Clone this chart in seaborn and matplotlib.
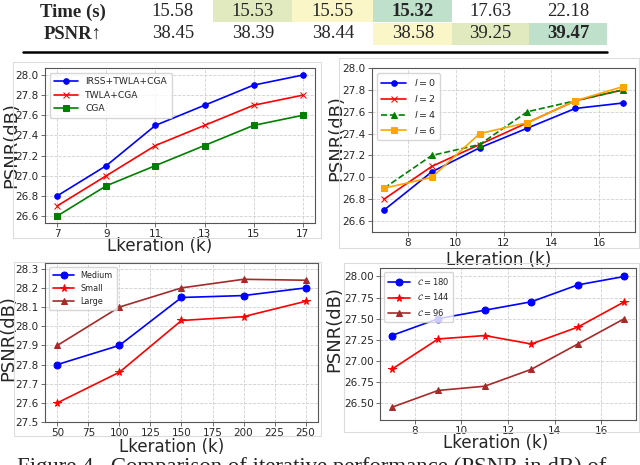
import numpy as np
import pandas as pd
import seaborn as sns
import matplotlib.pyplot as plt
from matplotlib.patches import Rectangle

sns.set_style('ticks')
plt.rcParams['font.family'] = ['DejaVu Sans']
plt.rcParams['mathtext.fontset'] = 'dejavusans'

# ---- datos de la tabla ----
row_labels = ['Time (s)', 'PSNR↑']
time_vals = ['15.58', '15.53', '15.55', '15.32', '17.63', '22.18']
psnr_vals = ['38.45', '38.39', '38.44', '38.58', '39.25', '39.47']
time_bg = [None, '#e1eabf', '#fbf6c8', '#bfe0cb', None, None]
psnr_bg = [None, None, None, '#fbf6c8', '#e1eabf', '#bfe0cb']
time_bold = [False, False, False, True, False, False]
psnr_bold = [False, False, False, False, False, True]

# ---- panel 1 ----
k1 = [7, 9, 11, 13, 15, 17]
irss_twla_cga = [26.8, 27.1, 27.5, 27.7, 27.9, 28.0]
twla_cga = [26.7, 27.0, 27.3, 27.5, 27.7, 27.8]
cga = [26.6, 26.9, 27.1, 27.3, 27.5, 27.6]

# ---- panel 2 ----
k2 = [7, 9, 11, 13, 15, 17]
l0 = [26.7, 27.05, 27.27, 27.45, 27.63, 27.68]
l2 = [26.8, 27.1, 27.3, 27.5, 27.7, 27.8]
l4 = [26.9, 27.2, 27.3, 27.6, 27.7, 27.8]
l6 = [26.9, 27.0, 27.4, 27.5, 27.7, 27.83]

# ---- panel 3 ----
k3 = [50, 100, 150, 200, 250]
medium = [27.8, 27.9, 28.15, 28.16, 28.2]
small = [27.6, 27.76, 28.03, 28.05, 28.13]
large = [27.9, 28.1, 28.2, 28.245, 28.24]

# ---- panel 4 ----
k4 = [7, 9, 11, 13, 15, 17]
c180 = [27.3, 27.5, 27.6, 27.7, 27.9, 28.0]
c144 = [26.9, 27.26, 27.3, 27.2, 27.4, 27.7]
c96 = [26.45, 26.65, 26.7, 26.9, 27.2, 27.5]

W, H = 640, 465
fig = plt.figure(figsize=(6.4, 4.65), dpi=100)


def fx(px):
    return px / W


def fy(py):
    return 1 - py / H


def add_ax(l, r, t, b):
    return fig.add_axes([fx(l), fy(b), fx(r) - fx(l), fy(t) - fy(b)])


# marcos grises de cada imagen
for (l, t, r, b) in [(13, 62, 321, 238), (339, 58, 639, 248),
                     (14, 262, 321, 436), (344, 263, 639, 432)]:
    fig.patches.append(Rectangle((fx(l), fy(b)), fx(r) - fx(l), fy(t) - fy(b),
                                 transform=fig.transFigure, fill=False,
                                 edgecolor='#dcdcdc', lw=0.8))

# ---- tabla ----
col_x = [173, 253, 333, 413, 490, 568]
edges = [134, 213, 292, 373, 452, 529, 607]
row_y = [12, 34]
row_top = [0, 23]
row_h = 22
for r, (vals, bgs, bolds) in enumerate([(time_vals, time_bg, time_bold),
                                        (psnr_vals, psnr_bg, psnr_bold)]):
    fig.text(fx(73), fy(row_y[r]), row_labels[r], ha='center', va='center',
             fontsize=13.5, fontweight='bold', family=['Liberation Serif', 'DejaVu Serif'])
    for i, v in enumerate(vals):
        if bgs[i]:
            fig.patches.append(Rectangle((fx(edges[i]), fy(row_top[r] + row_h)),
                                         fx(edges[i + 1] - edges[i]), row_h / H,
                                         transform=fig.transFigure, color=bgs[i], lw=0))
        fig.text(fx(col_x[i]), fy(row_y[r]), v, ha='center', va='center',
                 fontsize=13.5, fontweight='bold' if bolds[i] else 'normal',
                 family=['Liberation Serif'])
fig.add_artist(plt.Line2D([fx(23), fx(607)], [fy(52), fy(52)], color='black', lw=1.8))


def style(ax):
    ax.grid(True, ls='--', color='#d0d0d0', lw=0.6)
    for s in ax.spines.values():
        s.set_color('#555555')
        s.set_linewidth(0.8)
    ax.tick_params(labelsize=7.5, length=3, width=0.6, pad=1.5, color='#555555')


def line(ax, x, y, color, marker, label, ms, ls='-', lw=1.2):
    sns.lineplot(x=x, y=y, ax=ax, color=color, marker=marker, label=label,
                 markersize=ms, markeredgecolor=color, markerfacecolor=color,
                 linestyle=ls, linewidth=lw)


# panel 1
ax1 = add_ax(45, 315, 68, 223)
line(ax1, k1, irss_twla_cga, 'blue', 'o', 'IRSS+TWLA+CGA', 4)
line(ax1, k1, twla_cga, 'red', 'x', 'TWLA+CGA', 4)
line(ax1, k1, cga, 'green', 's', 'CGA', 4)
ax1.set_xticks(k1)
ax1.set_yticks(np.arange(26.6, 28.01, 0.2))
ax1.legend(loc='upper left', fontsize=6.6, handlelength=2.6, borderpad=0.5, labelspacing=0.5)

# panel 2
ax2 = add_ax(372, 635, 68, 232)
line(ax2, k2, l0, 'blue', 'o', '$l = 0$', 4)
line(ax2, k2, l2, 'red', 'x', '$l = 2$', 4)
line(ax2, k2, l4, 'green', '^', '$l = 4$', 4, ls='--')
line(ax2, k2, l6, 'orange', 's', '$l = 6$', 4)
ax2.set_ylim(26.5, 28.0)
ax2.set_yticks(np.arange(26.6, 28.01, 0.2))
ax2.legend(loc='upper left', fontsize=6.8, handlelength=2.6, borderpad=0.5, labelspacing=0.5)

# panel 3
ax3 = add_ax(45, 318, 263, 422)
line(ax3, k3, medium, 'blue', 'o', 'Medium', 5)
line(ax3, k3, small, 'red', '*', 'Small', 5.5)
line(ax3, k3, large, 'brown', '^', 'Large', 5)
ax3.set_ylim(27.5, 28.33)
ax3.set_yticks(np.arange(27.5, 28.31, 0.1))
ax3.set_xticks(np.arange(50, 251, 25))
ax3.legend(loc='upper left', fontsize=5.8, handlelength=2.6, borderpad=0.5, labelspacing=0.5)

# panel 4
ax4 = add_ax(380, 636, 268, 420)
line(ax4, k4, c180, 'blue', 'o', r'$\mathcal{C} = 180$', 5)
line(ax4, k4, c144, 'red', '*', r'$\mathcal{C} = 144$', 5.5)
line(ax4, k4, c96, 'brown', '^', r'$\mathcal{C} = 96$', 5)
ax4.set_ylim(26.3, 28.1)
ax4.set_yticks(np.arange(26.5, 28.01, 0.25))
ax4.yaxis.set_major_formatter('{x:.2f}')
ax4.legend(loc='upper left', fontsize=6.0, handlelength=2.6, borderpad=0.5, labelspacing=0.5)

for ax, ylc, xlc in [(ax1, (-0.093, 0.5), (0.426, -0.09)),
                     (ax2, (-0.103, 0.57), (0.48, -0.115)),
                     (ax3, (-0.10, 0.53), (0.465, -0.1)),
                     (ax4, (-0.145, 0.6), (0.45, -0.09))]:
    style(ax)
    ax.set_ylabel('PSNR(dB)', fontsize=13)
    ax.set_xlabel('Lkeration (k)', fontsize=12)
    ax.yaxis.set_label_coords(*ylc)
    ax.xaxis.set_label_coords(*xlc)

fig.text(fx(17), fy(457), 'Figure 4.  Comparison of iterative performance (PSNR in dB) of',
         ha='left', va='top', fontsize=16.4, family=['Liberation Serif'])

fig.savefig('out.png', dpi=100)
